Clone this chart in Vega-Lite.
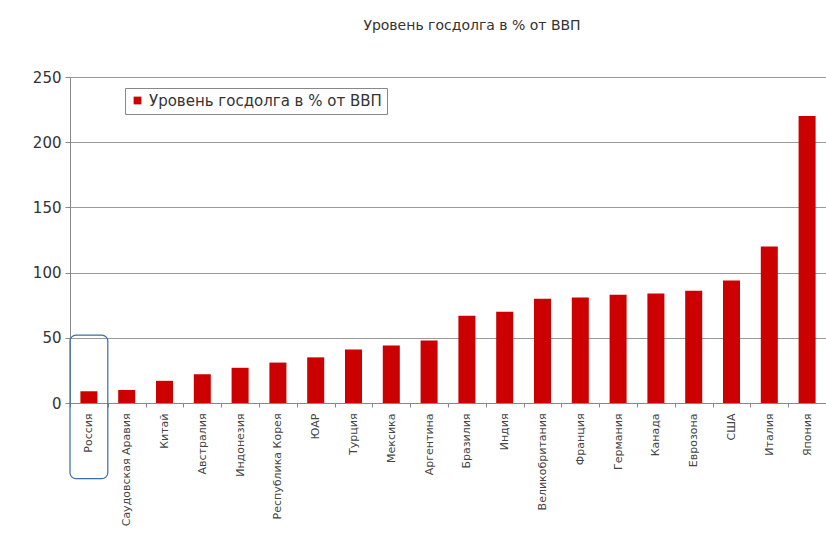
{
  "$schema": "https://vega.github.io/schema/vega-lite/v6.json",
  "autosize": "none",
  "width": 756,
  "height": 326,
  "padding": {"left": 70, "top": 77, "right": 0, "bottom": 142},
  "background": "white",
  "config": {"font": "DejaVu Sans", "view": {"stroke": null}},
  "title": {"text": "Уровень госдолга в % от ВВП", "fontSize": 14, "fontWeight": "normal", "color": "#333", "offset": 42, "dy": 5, "anchor": "middle", "dx": 24},
  "data": {"values": [
    {"country": "Россия", "value": 9, "series": "Уровень госдолга в % от ВВП"},
    {"country": "Саудовская Аравия", "value": 10, "series": "Уровень госдолга в % от ВВП"},
    {"country": "Китай", "value": 17, "series": "Уровень госдолга в % от ВВП"},
    {"country": "Австралия", "value": 22, "series": "Уровень госдолга в % от ВВП"},
    {"country": "Индонезия", "value": 27, "series": "Уровень госдолга в % от ВВП"},
    {"country": "Республика Корея", "value": 31, "series": "Уровень госдолга в % от ВВП"},
    {"country": "ЮАР", "value": 35, "series": "Уровень госдолга в % от ВВП"},
    {"country": "Турция", "value": 41, "series": "Уровень госдолга в % от ВВП"},
    {"country": "Мексика", "value": 44, "series": "Уровень госдолга в % от ВВП"},
    {"country": "Аргентина", "value": 48, "series": "Уровень госдолга в % от ВВП"},
    {"country": "Бразилия", "value": 67, "series": "Уровень госдолга в % от ВВП"},
    {"country": "Индия", "value": 70, "series": "Уровень госдолга в % от ВВП"},
    {"country": "Великобритания", "value": 80, "series": "Уровень госдолга в % от ВВП"},
    {"country": "Франция", "value": 81, "series": "Уровень госдолга в % от ВВП"},
    {"country": "Германия", "value": 83, "series": "Уровень госдолга в % от ВВП"},
    {"country": "Канада", "value": 84, "series": "Уровень госдолга в % от ВВП"},
    {"country": "Еврозона", "value": 86, "series": "Уровень госдолга в % от ВВП"},
    {"country": "США", "value": 94, "series": "Уровень госдолга в % от ВВП"},
    {"country": "Италия", "value": 120, "series": "Уровень госдолга в % от ВВП"},
    {"country": "Япония", "value": 220, "series": "Уровень госдолга в % от ВВП"}
  ]},
  "layer": [
    {
      "mark": {"type": "bar", "width": {"band": 0.45}},
      "encoding": {
        "x": {"field": "country", "type": "nominal", "sort": null,
              "scale": {"paddingInner": 0, "paddingOuter": 0},
              "axis": {"title": null, "labelAngle": -90, "labelFontSize": 11, "labelColor": "#444", "domainColor": "#888", "tickColor": "#888", "tickBand": "extent", "tickSize": 4, "labelPadding": 6, "labelLimit": 200}},
        "y": {"field": "value", "type": "quantitative",
              "scale": {"domain": [0, 250], "nice": false},
              "axis": {"title": null, "values": [0, 50, 100, 150, 200, 250], "labelFontSize": 15, "labelColor": "#333", "gridColor": "#999", "gridWidth": 1, "domainColor": "#888", "tickColor": "#888", "tickSize": 5, "labelPadding": 4}},
        "color": {"field": "series", "type": "nominal",
                  "scale": {"range": ["#cc0000"]},
                  "legend": {"title": null, "orient": "none", "legendX": 55, "legendY": 11, "strokeColor": "#888", "padding": 5, "symbolType": "square", "symbolSize": 60, "labelFontSize": 15, "labelLimit": 400, "labelColor": "#333", "fillColor": "white"}}
      }
    },
    {
      "transform": [{"filter": "datum.country === 'Россия'"}],
      "mark": {"type": "rect", "fill": null, "stroke": "#3a6ea5", "strokeWidth": 1.2, "cornerRadius": 6, "width": {"band": 1}},
      "encoding": {
        "x": {"field": "country", "type": "nominal", "sort": null},
        "y": {"datum": 52, "type": "quantitative"},
        "y2": {"datum": -58}
      }
    }
  ]
}
